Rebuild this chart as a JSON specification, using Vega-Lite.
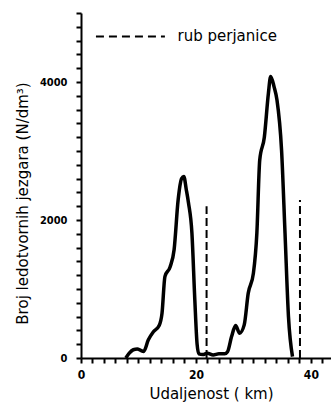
{
  "$schema": "https://vega.github.io/schema/vega-lite/v6.json",
  "autosize": "none",
  "width": 250,
  "height": 345,
  "padding": {"left": 81, "top": 13, "right": 0, "bottom": 45},
  "background": "white",
  "config": {
    "view": {"stroke": null},
    "axis": {
      "grid": false, "domainColor": "black", "domainWidth": 2, "tickColor": "black",
      "tickWidth": 2, "tickSize": 5, "labelFlush": false,
      "labelFont": "DejaVu Sans Condensed", "labelFontWeight": "bold", "labelColor": "black",
      "titleFont": "DejaVu Sans", "titleFontWeight": "normal", "titleFontSize": 15, "titleColor": "black"
    }
  },
  "datasets": {
    "curve": [
      {"km": 7.8, "n": 0}, {"km": 8.4, "n": 70}, {"km": 9.1, "n": 120}, {"km": 9.8, "n": 130},
      {"km": 10.4, "n": 110}, {"km": 10.9, "n": 95}, {"km": 11.7, "n": 260}, {"km": 12.6, "n": 380},
      {"km": 13.6, "n": 470}, {"km": 14.1, "n": 650}, {"km": 14.6, "n": 1180}, {"km": 15.5, "n": 1320},
      {"km": 16.2, "n": 1570}, {"km": 16.9, "n": 2290}, {"km": 17.5, "n": 2600}, {"km": 17.9, "n": 2630},
      {"km": 18.3, "n": 2450}, {"km": 18.7, "n": 2250}, {"km": 19.3, "n": 1810}, {"km": 19.8, "n": 850},
      {"km": 20.2, "n": 200}, {"km": 20.5, "n": 60}, {"km": 21.2, "n": 50}, {"km": 22.0, "n": 70},
      {"km": 23.0, "n": 45}, {"km": 24.0, "n": 60}, {"km": 25.0, "n": 60}, {"km": 25.5, "n": 90},
      {"km": 26.2, "n": 310}, {"km": 26.9, "n": 470}, {"km": 27.6, "n": 360}, {"km": 28.4, "n": 480},
      {"km": 29.1, "n": 940}, {"km": 30.0, "n": 1230}, {"km": 30.6, "n": 1810}, {"km": 31.1, "n": 2870},
      {"km": 31.9, "n": 3200}, {"km": 32.6, "n": 3830}, {"km": 33.0, "n": 4080}, {"km": 33.6, "n": 3930},
      {"km": 34.1, "n": 3740}, {"km": 34.9, "n": 3010}, {"km": 35.5, "n": 1810}, {"km": 36.1, "n": 600},
      {"km": 36.8, "n": 20}
    ],
    "edges": [
      {"km": 21.85, "n": 0, "n2": 2200},
      {"km": 38.1, "n": 0, "n2": 2290}
    ],
    "legendRule": [
      {"km": 2.6, "km2": 14.6, "n": 4660}
    ],
    "legendText": [
      {"km": 16.8, "n": 4660, "label": "rub perjanice"}
    ]
  },
  "encoding": {
    "x": {"field": "km", "type": "quantitative", "scale": {"domain": [0, 43.5], "nice": false},
      "axis": {
        "values": [0,2,4,6,8,10,12,14,16,18,20,22,24,26,28,30,32,34,36,38,40,42],
        "labelOverlap": false,
        "labelExpr": "datum.value % 20 == 0 ? datum.label : ''",
        "labelPadding": 6, "labelFontSize": 12,
        "title": "Udaljenost ( km)", "titleX": 130, "titleY": 40, "titleBaseline": "alphabetic"
      }
    },
    "y": {"field": "n", "type": "quantitative", "scale": {"domain": [0, 5000], "nice": false},
      "axis": {
        "values": [0,200,400,600,800,1000,1200,1400,1600,1800,2000,2200,2400,2600,2800,3000,3200,3400,3600,3800,4000,4200,4400,4600,4800,5000],
        "labelOverlap": false,
        "labelExpr": "datum.value % 2000 == 0 ? datum.value : ''",
        "labelPadding": 9, "labelFontSize": 11,
        "title": "Broj ledotvornih jezgara (N/dm³)",
        "titleX": -59, "titleY": 190, "titleBaseline": "middle"
      }
    }
  },
  "layer": [
    {
      "data": {"name": "curve"},
      "mark": {"type": "line", "interpolate": "monotone", "strokeWidth": 3.5, "color": "black", "strokeJoin": "round"}
    },
    {
      "data": {"name": "edges"},
      "mark": {"type": "rule", "strokeWidth": 2, "strokeDash": [8, 4], "color": "black"},
      "encoding": {"y2": {"field": "n2"}}
    },
    {
      "data": {"name": "legendRule"},
      "mark": {"type": "rule", "strokeWidth": 2, "strokeDash": [8, 5], "color": "black"},
      "encoding": {"x2": {"field": "km2"}}
    },
    {
      "data": {"name": "legendText"},
      "mark": {"type": "text", "align": "left", "baseline": "middle", "font": "DejaVu Sans", "fontSize": 15, "color": "black"},
      "encoding": {"text": {"field": "label"}}
    }
  ]
}
